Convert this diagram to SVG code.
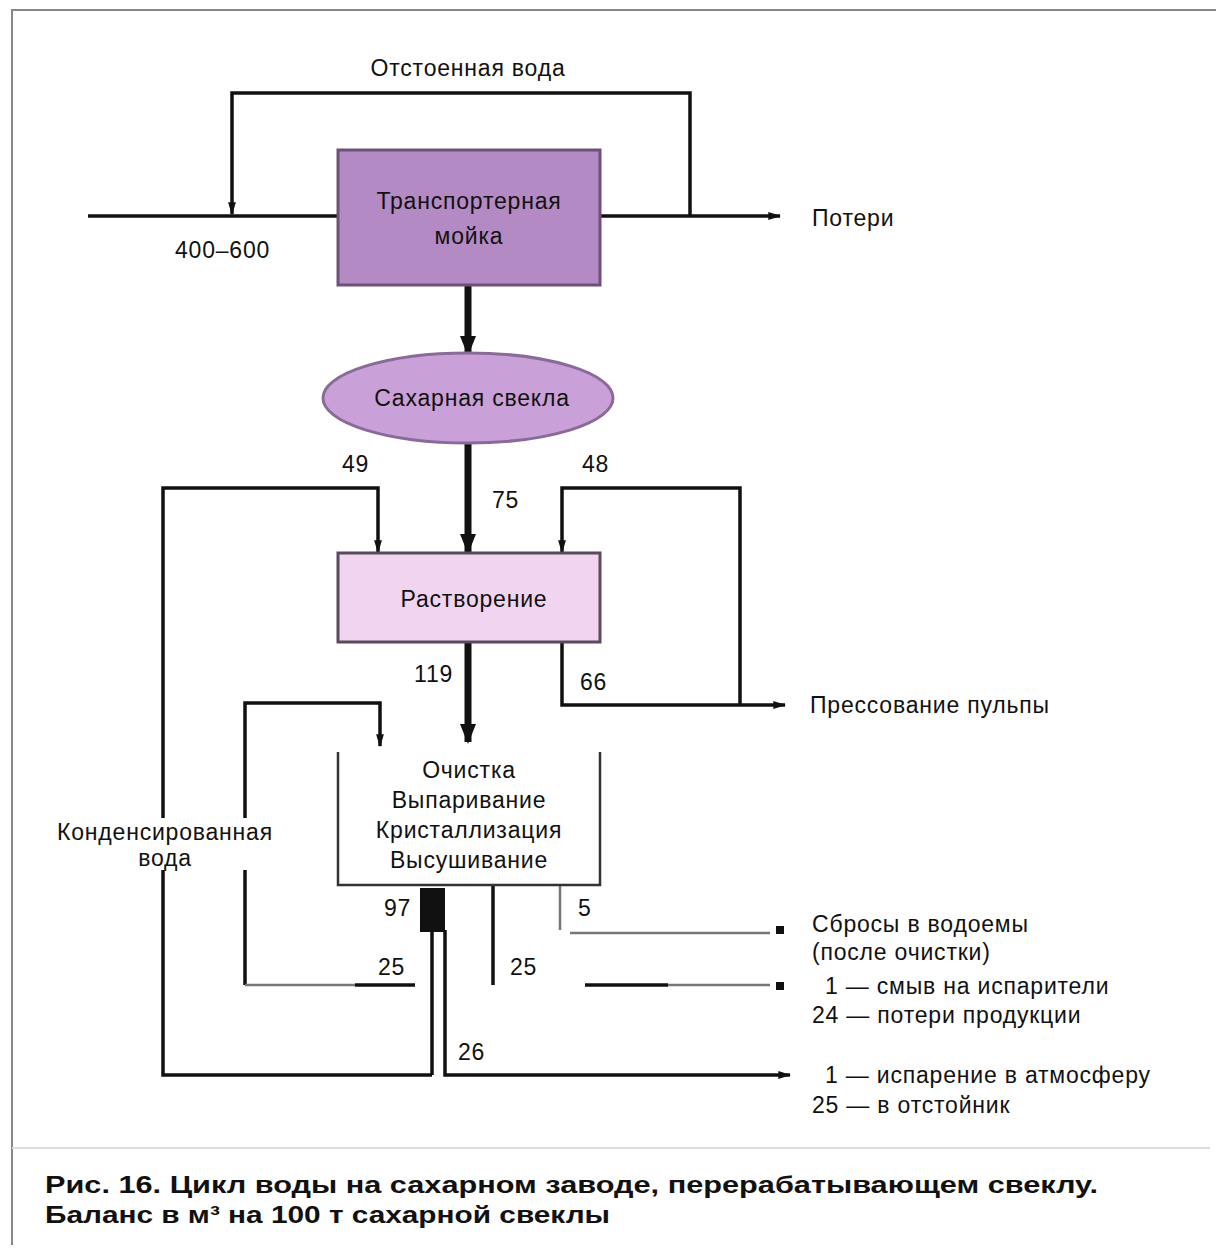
<svg xmlns="http://www.w3.org/2000/svg" width="1216" height="1254" viewBox="0 0 1216 1254">
<defs>
<style>
.t{font-family:"Liberation Sans","DejaVu Sans",sans-serif;font-size:23px;letter-spacing:0.8px;fill:#111}
.c{text-anchor:middle}
.ln{fill:none;stroke:#111;stroke-width:3.5}
.gl{fill:none;stroke:#777;stroke-width:2.5}
.thk{fill:none;stroke:#111;stroke-width:7}
.cap{font-family:"Liberation Sans","DejaVu Sans",sans-serif;font-size:24px;font-weight:bold;fill:#111}
</style>
<marker id="arB" viewBox="0 0 10 10" refX="9" refY="5" markerWidth="20" markerHeight="20" orient="auto" markerUnits="userSpaceOnUse">
<path d="M0,1 L10,5 L0,9 z" fill="#111"/>
</marker>
<marker id="arS" viewBox="0 0 10 10" refX="9" refY="5" markerWidth="13" markerHeight="13" orient="auto" markerUnits="userSpaceOnUse">
<path d="M0,2 L10,5 L0,8 z" fill="#111"/>
</marker>
</defs>
<rect x="0" y="0" width="1216" height="1254" fill="#fff"/>
<g id="frame">
<path d="M12,1245 L12,10 L1216,10" fill="none" stroke="#888" stroke-width="2"/>
<line x1="12" y1="1148" x2="1210" y2="1148" stroke="#ddd" stroke-width="2"/>
</g>
<g id="connectors">
<path class="ln" d="M88,216 L338,216"/>
<path class="ln" d="M600,216 L780,216" marker-end="url(#arS)"/>
<path class="ln" d="M690,216 L690,93 L232,93 L232,214" marker-end="url(#arS)"/>
<path class="thk" d="M468,285 L468,354" marker-end="url(#arB)"/>
<path class="thk" d="M468,443 L468,552" marker-end="url(#arB)"/>
<path class="ln" d="M432,1075 L163,1075 L163,488 L378,488 L378,552" marker-end="url(#arS)"/>
<path class="ln" d="M562,642 L562,705 L785,705" marker-end="url(#arS)"/>
<path class="ln" d="M740,705 L740,488 L562,488 L562,552" marker-end="url(#arS)"/>
<path class="thk" d="M468,642 L468,742" marker-end="url(#arB)"/>
<path class="ln" d="M245,985 L245,703 L380,703 L380,746" marker-end="url(#arS)"/>
<path class="gl" d="M245,985 L355,985"/>
<path class="ln" d="M355,985 L415,985"/>
<rect x="420" y="888" width="25" height="44" fill="#111"/>
<path class="ln" d="M432,930 L432,1075"/>
<path class="ln" d="M445,930 L445,1075 L790,1075" marker-end="url(#arS)"/>
<path class="ln" d="M493,885 L493,985"/>
<path class="gl" d="M560,885 L560,930"/>
<path class="gl" d="M570,933 L770,933"/>
<path class="ln" d="M585,985 L668,985"/>
<path class="gl" d="M668,985 L770,985"/>
</g>
<g id="node-transport">
<rect x="338" y="150" width="262" height="135" fill="#b48ac4" stroke="#6e5078" stroke-width="3"/>
<text class="t c" x="469" y="209">Транспортерная</text>
<text class="t c" x="469" y="244">мойка</text>
</g>
<g id="node-beet">
<ellipse cx="468" cy="398" rx="145" ry="45" fill="#c9a1d8" stroke="#8a6a98" stroke-width="3"/>
<text class="t c" x="472" y="406">Сахарная свекла</text>
</g>
<g id="node-process">
<rect x="338" y="553" width="262" height="89" fill="#f0d4f0" stroke="#5a4a5a" stroke-width="3"/>
<text class="t c" x="474" y="607">Растворение</text>
</g>
<g id="node-purify">
<path d="M338,752 L338,885 L600,885 L600,752" fill="none" stroke="#333" stroke-width="2.5"/>
<text class="t c" x="469" y="778">Очистка</text>
<text class="t c" x="469" y="808">Выпаривание</text>
<text class="t c" x="469" y="838">Кристаллизация</text>
<text class="t c" x="469" y="868">Высушивание</text>
</g>
<g id="labels">
<text class="t c" x="468" y="76">Отстоенная вода</text>
<text class="t" x="812" y="226">Потери</text>
<text class="t" x="175" y="258">400–600</text>
<text class="t" x="342" y="472">49</text>
<text class="t" x="582" y="472">48</text>
<text class="t" x="492" y="508">75</text>
<text class="t" x="414" y="682">119</text>
<text class="t" x="580" y="690">66</text>
<text class="t" x="810" y="713">Прессование пульпы</text>
<rect x="45" y="818" width="240" height="52" fill="#fff"/>
<text class="t c" x="165" y="840">Конденсированная</text>
<text class="t c" x="165" y="866">вода</text>
<text class="t" x="384" y="916">97</text>
<text class="t" x="578" y="916">5</text>
<text class="t" x="378" y="975">25</text>
<text class="t" x="510" y="975">25</text>
<text class="t" x="458" y="1060">26</text>
<rect x="776" y="926" width="8" height="8" fill="#111"/>
<text class="t" x="812" y="932">Сбросы в водоемы</text>
<text class="t" x="812" y="960">(после очистки)</text>
<rect x="776" y="982" width="8" height="8" fill="#111"/>
<text class="t" x="825" y="994">1 — смыв на испарители</text>
<text class="t" x="812" y="1023">24 — потери продукции</text>
<text class="t" x="825" y="1083">1 — испарение в атмосферу</text>
<text class="t" x="812" y="1113">25 — в отстойник</text>
</g>
<g id="caption">
<text class="cap" x="45" y="1193" textLength="1053" lengthAdjust="spacingAndGlyphs">Рис. 16. Цикл воды на сахарном заводе, перерабатывающем свеклу.</text>
<text class="cap" x="45" y="1223" textLength="565" lengthAdjust="spacingAndGlyphs">Баланс в м³ на 100 т сахарной свеклы</text>
</g>
</svg>
